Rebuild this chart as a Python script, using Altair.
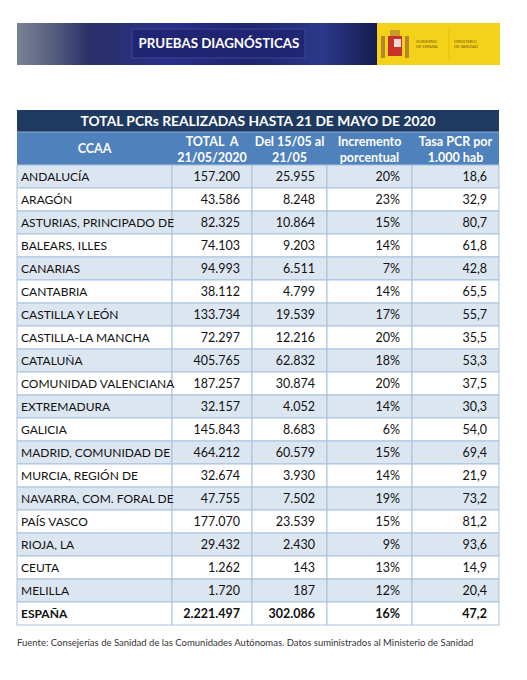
import altair as alt
import pandas as pd

# ---------------- data ----------------
ccaa = ["ANDALUCÍA", "ARAGÓN", "ASTURIAS, PRINCIPADO DE", "BALEARS, ILLES", "CANARIAS",
        "CANTABRIA", "CASTILLA Y LEÓN", "CASTILLA-LA MANCHA", "CATALUÑA",
        "COMUNIDAD VALENCIANA", "EXTREMADURA", "GALICIA", "MADRID, COMUNIDAD DE",
        "MURCIA, REGIÓN DE", "NAVARRA, COM. FORAL DE", "PAÍS VASCO", "RIOJA, LA",
        "CEUTA", "MELILLA"]
total = [157200, 43586, 82325, 74103, 94993, 38112, 133734, 72297, 405765, 187257,
         32157, 145843, 464212, 32674, 47755, 177070, 29432, 1262, 1720]
semana = [25955, 8248, 10864, 9203, 6511, 4799, 19539, 12216, 62832, 30874,
          4052, 8683, 60579, 3930, 7502, 23539, 2430, 143, 187]
incremento = [20, 23, 15, 14, 7, 14, 17, 20, 18, 20, 14, 6, 15, 14, 19, 15, 9, 13, 12]
tasa = [18.6, 32.9, 80.7, 61.8, 42.8, 65.5, 55.7, 35.5, 53.3, 37.5, 30.3, 54.0,
        69.4, 21.9, 73.2, 81.2, 93.6, 14.9, 20.4]
espana = ["ESPAÑA", 2221497, 302086, 16, 47.2]
headers = ["CCAA", "TOTAL\u00a0\u00a0A\n21/05/2020", "Del 15/05 al\n21/05",
           "Incremento\nporcentual", "Tasa PCR por\n1.000 hab"]
table_title = "TOTAL PCRs REALIZADAS HASTA 21 DE MAYO DE 2020"
banner_title = "PRUEBAS DIAGNÓSTICAS"
gov_1 = "GOBIERNO\nDE ESPAÑA"
gov_2 = "MINISTERIO\nDE SANIDAD"
source = ("Fuente: Consejerías de Sanidad de las Comunidades Autónomas. "
          "Datos suministrados al Ministerio de Sanidad")

# ---------------- layout (page pixels) ----------------
W, H, M = 511, 664, 8
col_edges = [17, 172, 252, 327, 412, 499]
title_band = (110, 132)
header_band = (132, 165)
row_top, row_h = 165, 23
banner = (17, 500, 23, 65)
yellow_x0 = 377
FONT = "Lato"
NAVY, BLUE, LIGHT, GRID = "#1f3a60", "#4f81bd", "#dce6f1", "#a9c0dd"

def fmt_int(v):
    return f"{v:,}".replace(",", ".")

def fmt_dec(v):
    return f"{v:.1f}".replace(".", ",")

xs = alt.Scale(domain=[M, M + W], nice=False, zero=False)
ys = alt.Scale(domain=[M + H, M], nice=False, zero=False)

def X(f):
    return alt.X(f, type="quantitative", scale=xs, axis=None)

def Y(f):
    return alt.Y(f, type="quantitative", scale=ys, axis=None)

# ---------------- table cells ----------------
rows = []
for i, name in enumerate(ccaa):
    rows.append([name, fmt_int(total[i]), fmt_int(semana[i]), f"{incremento[i]}%",
                 fmt_dec(tasa[i]), False])
rows.append([espana[0], fmt_int(espana[1]), fmt_int(espana[2]), f"{espana[3]}%",
             fmt_dec(espana[4]), True])

cells, texts = [], []
for i, r in enumerate(rows):
    y0 = row_top + i * row_h
    y1 = y0 + row_h
    fill = LIGHT if i % 2 == 0 else "#ffffff"
    for j in range(5):
        x0, x1 = col_edges[j], col_edges[j + 1]
        cells.append(dict(x0=x0, x1=x1, y0=y0, y1=y1, fill=fill))
        texts.append(dict(
            t=r[j], y=(y0 + y1) / 2 + 0.5,
            x=x0 + 4 if j == 0 else x1 - 12,
            side="left" if j == 0 else "right",
            heavy=r[5]))
cells_df = pd.DataFrame(cells)
texts_df = pd.DataFrame(texts)

cell_layer = alt.Chart(cells_df).mark_rect(stroke=GRID, strokeWidth=1).encode(
    x=X("x0"), x2="x1", y=Y("y0"), y2="y1",
    color=alt.Color("fill:N", scale=None))

def text_layer(df, align, bold, color="#111111", size=12.5, **kw):
    return alt.Chart(df).mark_text(
        align=align, baseline="middle", font=FONT, fontSize=size,
        fontWeight="bold" if bold else "normal", color=color, **kw
    ).encode(x=X("x"), y=Y("y"), text="t:N")

body_layers = []
for side in ["left", "right"]:
    for heavy in [False, True]:
        sub = texts_df[(texts_df["side"] == side) & (texts_df["heavy"] == heavy)]
        body_layers.append(text_layer(sub[["t", "x", "y"]], side, heavy,
                                      size=12 if side == "left" else 12.5))

# ---------------- header and title ----------------
band_df = pd.DataFrame([
    dict(x0=col_edges[0], x1=col_edges[-1], y0=title_band[0], y1=title_band[1], fill=NAVY),
    dict(x0=col_edges[0], x1=col_edges[-1], y0=header_band[0], y1=header_band[1], fill=BLUE),
])
band_layer = alt.Chart(band_df).mark_rect().encode(
    x=X("x0"), x2="x1", y=Y("y0"), y2="y1", color=alt.Color("fill:N", scale=None))
sep_layer = alt.Chart(pd.DataFrame([dict(x0=col_edges[0], x1=col_edges[-1],
                                         y=header_band[0])])).mark_rule(
    color="#8fa9cf", strokeWidth=1).encode(x=X("x0"), x2="x1", y=Y("y"))

hdr_df = pd.DataFrame([dict(t=h.split("\n"),
                            x=(col_edges[j] + col_edges[j + 1]) / 2,
                            y=sum(header_band) / 2 + 0.5 - (0 if j == 0 else 7.5))
                       for j, h in enumerate(headers)])
hdr_layer = alt.Chart(hdr_df).mark_text(
    align="center", baseline="middle", font=FONT, fontSize=12.5, fontWeight="bold",
    color="white", lineHeight=16).encode(x=X("x"), y=Y("y"), text="t")

title_df = pd.DataFrame([dict(t=table_title, x=sum(col_edges[::5]) / 2,
                              y=sum(title_band) / 2 + 0.5)])
title_layer = text_layer(title_df, "center", True, color="white", size=13.8)

# ---------------- banner ----------------
banner_df = pd.DataFrame([dict(x0=banner[0], x1=yellow_x0, y0=banner[2], y1=banner[3])])
banner_layer = alt.Chart(banner_df).mark_rect(
    color=alt.Gradient(gradient="linear", x1=0, x2=1, y1=0, y2=0, stops=[
        alt.GradientStop(offset=0, color="#7a8296"),
        alt.GradientStop(offset=0.1, color="#565e80"),
        alt.GradientStop(offset=0.2, color="#2a3068"),
        alt.GradientStop(offset=0.42, color="#2a2f8a"),
        alt.GradientStop(offset=0.65, color="#1e2470"),
        alt.GradientStop(offset=0.85, color="#2a3a8a"),
        alt.GradientStop(offset=1, color="#141c50")])
).encode(x=X("x0"), x2="x1", y=Y("y0"), y2="y1")
yellow_df = pd.DataFrame([dict(x0=yellow_x0, x1=banner[1], y0=banner[2], y1=banner[3])])
yellow_layer = alt.Chart(yellow_df).mark_rect(color="#f5d21a").encode(
    x=X("x0"), x2="x1", y=Y("y0"), y2="y1")
box_df = pd.DataFrame([dict(x0=132, x1=305, y0=29, y1=58)])
box_layer = alt.Chart(box_df).mark_rect(
    color="#1f2572", stroke="#3d4a9a", strokeWidth=1, opacity=0.9).encode(
    x=X("x0"), x2="x1", y=Y("y0"), y2="y1")
btitle_df = pd.DataFrame([dict(t=banner_title, x=219, y=44)])
btitle_layer = text_layer(btitle_df, "center", True, color="white", size=13.3)

# coat of arms (approximate shapes)
arms_df = pd.DataFrame([
    dict(x0=388, x1=402, y0=36, y1=56, fill="#c8322a"),
    dict(x0=390, x1=400, y0=30, y1=36, fill="#c89a2a"),
    dict(x0=381, x1=385, y0=36, y1=58, fill="#b8862a"),
    dict(x0=405, x1=409, y0=36, y1=58, fill="#b8862a"),
    dict(x0=394, x1=401, y0=39, y1=47, fill="#e8d8d8"),
])
arms_layer = alt.Chart(arms_df).mark_rect().encode(
    x=X("x0"), x2="x1", y=Y("y0"), y2="y1", color=alt.Color("fill:N", scale=None))
gov_df = pd.DataFrame([dict(t=gov_1.split("\n"), x=416, y=42),
                       dict(t=gov_2.split("\n"), x=454, y=42)])
gov_layer = alt.Chart(gov_df).mark_text(
    align="left", baseline="middle", font=FONT, fontSize=4, color="#7a5a10",
    lineHeight=5).encode(x=X("x"), y=Y("y"), text="t")
vline_df = pd.DataFrame([dict(x=449, y0=30, y1=58)])
vline_layer = alt.Chart(vline_df).mark_rule(color="#d9b000", strokeWidth=0.6).encode(
    x=X("x"), y=Y("y0"), y2="y1")

# ---------------- footer ----------------
src_df = pd.DataFrame([dict(t=source, x=17, y=643)])
src_layer = text_layer(src_df, "left", False, color="#333333", size=9.5)

chart = alt.layer(
    banner_layer, yellow_layer, box_layer, btitle_layer, arms_layer, gov_layer, vline_layer,
    band_layer, sep_layer, title_layer, hdr_layer, cell_layer, *body_layers, src_layer
).properties(
    width=W, height=H, padding=0, autosize=alt.AutoSizeParams(type="none"),
    background="white"
).configure_view(stroke=None)

chart.save("out.html", embed_options={"renderer": "svg", "actions": False})
